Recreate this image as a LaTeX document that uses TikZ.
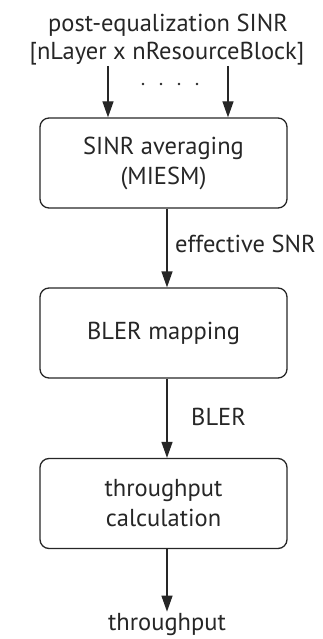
\documentclass[tikz,border=0pt]{standalone}
\usepackage{fontspec}
\setmainfont{PT Sans}
\usetikzlibrary{arrows.meta}
\begin{document}
\begin{tikzpicture}[x=1pt,y=-1pt,
  txt/.style={font=\fontsize{24.5}{30}\selectfont, text=black!85, inner sep=0pt},
  blk/.style={txt, draw=black!85, line width=1.3pt, rounded corners=9pt,
    minimum width=247pt, minimum height=90pt, align=center},
  flow/.style={draw=black!85, line width=1.3pt, -{Triangle[length=16pt,width=11pt]}}]
  \useasboundingbox (0,0) rectangle (323,639);
  % input description
  \node[txt, anchor=base] (in1) at (168,32) {post-equalization SINR};
  \node[txt, anchor=base] (in2) at (167,60) {[nLayer x nResourceBlock]};
  \coordinate (la) at (108,66);
  \coordinate (ra) at (228,66);
  % processing chain
  \node[blk] (avg) at (163.5,163) {SINR averaging\\(MIESM)};
  \node[blk] (map) at (163.5,333) {BLER mapping};
  \node[blk] (thr) at (163.5,503.5) {throughput\\calculation};
  \node[txt, anchor=base] (out) at (167,630) {throughput};
  % per-element inputs
  \draw[flow] (la) -- (la |- avg.north);
  \draw[flow] (ra) -- (ra |- avg.north);
  \foreach \d [count=\i] in {143,161,179,197}
    \fill[black!85] (\d,84) circle (1.4pt) coordinate (dot\i);
  % chain connectors and labels
  \coordinate (c1) at (167,0 |- avg.south);
  \coordinate (c2) at (167,0 |- map.north);
  \coordinate (c3) at (167,0 |- map.south);
  \coordinate (c4) at (167,0 |- thr.north);
  \coordinate (c5) at (167,0 |- thr.south);
  \node[txt, anchor=base west] (lab1) at (175,252) {effective SNR};
  \node[txt, anchor=base west] (lab2) at (191,425) {BLER};
  \draw[flow] (c1) -- (c2);
  \draw[flow] (c3) -- (c4);
  \draw[flow] (c5) -- ([yshift=1pt]out.north);
\end{tikzpicture}
\end{document}
